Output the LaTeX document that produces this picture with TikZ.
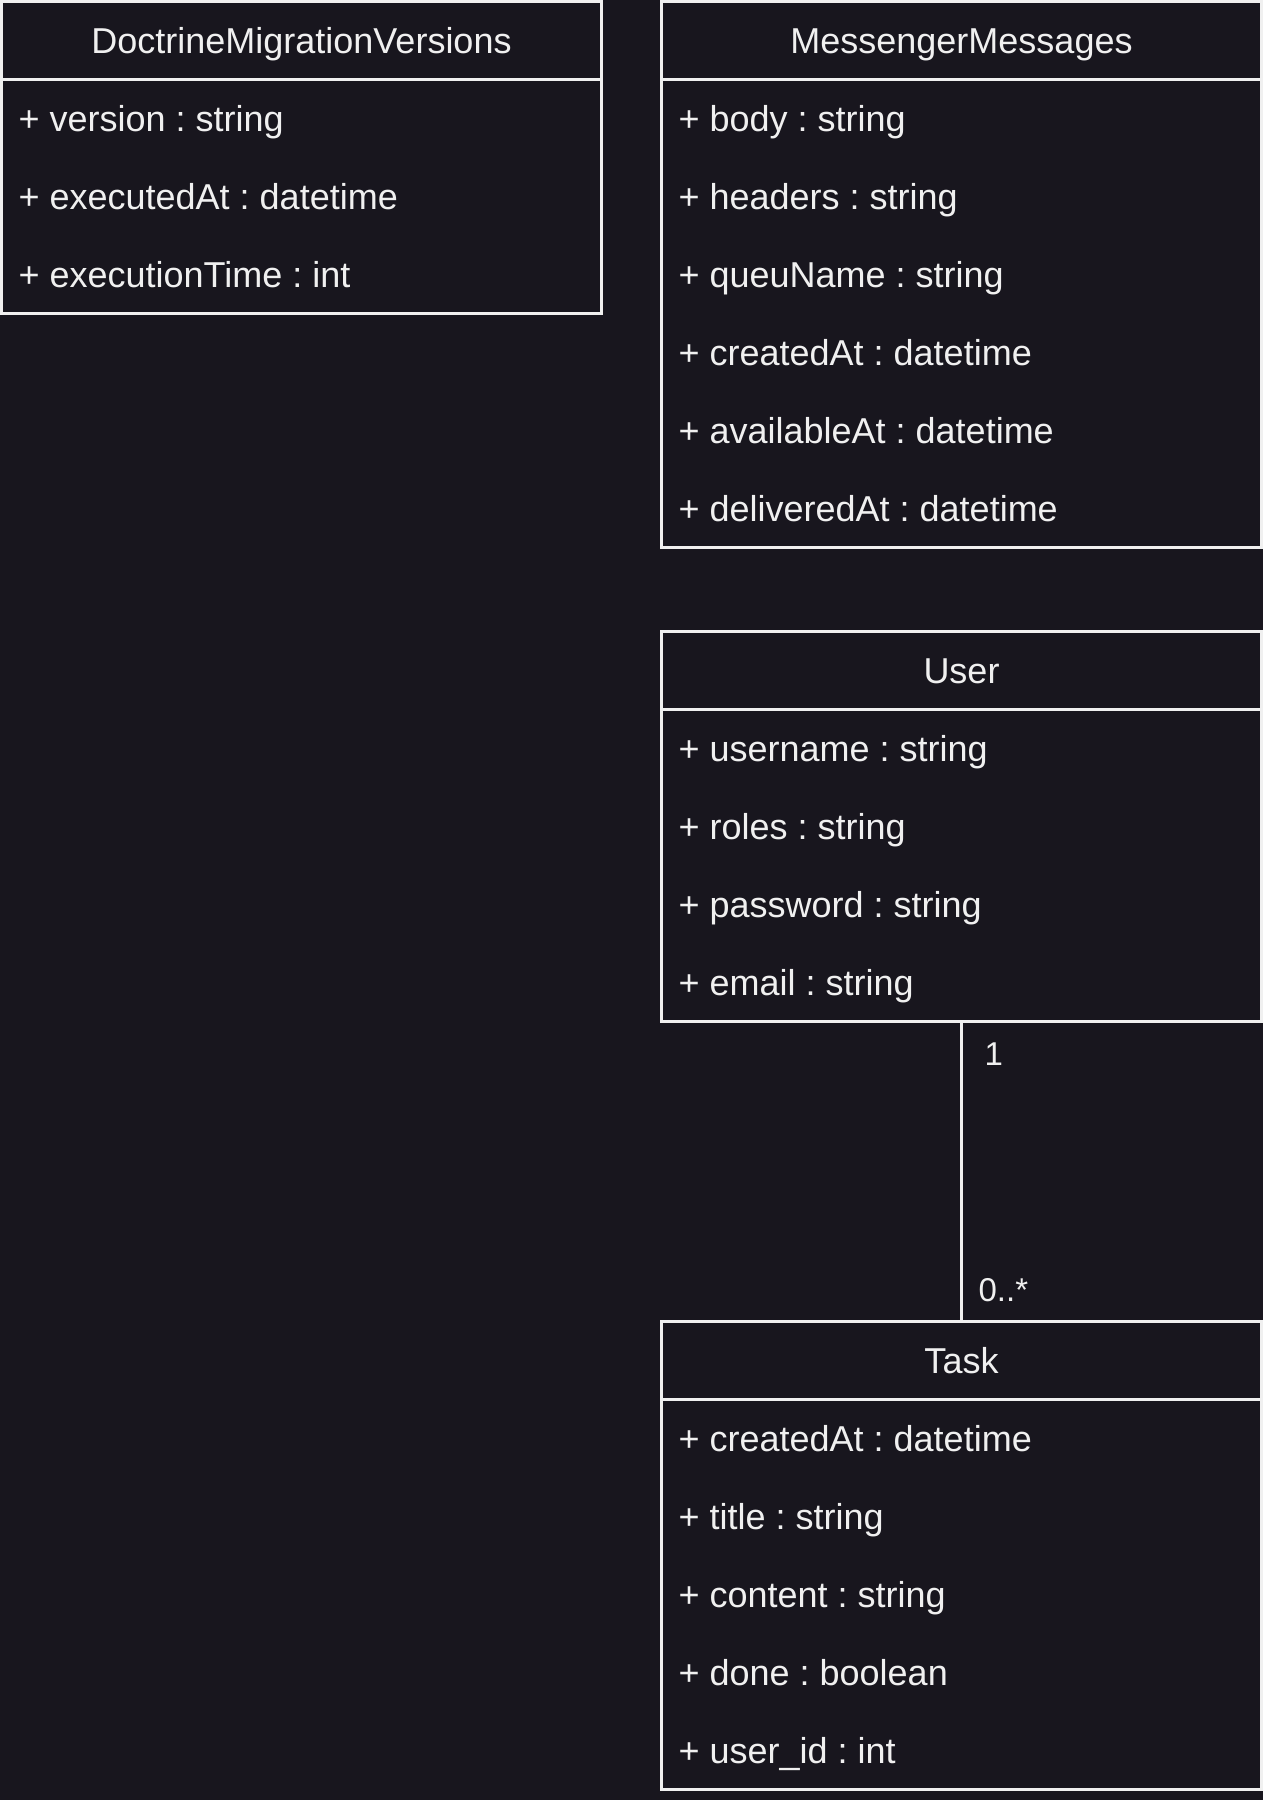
\documentclass[tikz,border=0pt]{standalone}
\usepackage{fontspec}
\setmainfont{Liberation Sans}
\usetikzlibrary{positioning}
\frenchspacing
\definecolor{bgdark}{HTML}{18161E}
\definecolor{linelight}{HTML}{F0F0F0}
\tikzstyle{classhead}=[rectangle,draw=linelight,line width=1pt,outer sep=0pt,inner sep=0pt,minimum width=200pt,minimum height=26pt,text=linelight,font=\fontsize{12}{14}\selectfont,text height=11pt,text depth=2.4pt]
\tikzstyle{classbody}=[rectangle,draw=linelight,line width=1pt,outer sep=0pt,inner sep=0pt,minimum width=200pt]
\tikzstyle{field}=[anchor=west,inner sep=0pt,text=linelight,font=\fontsize{12}{14}\selectfont,text height=11pt,text depth=2.4pt]
\tikzstyle{multip}=[anchor=base west,inner sep=0pt,text=linelight,font=\fontsize{11}{13}\selectfont]
\tikzstyle{assoc}=[draw=linelight,line width=1pt]

\begin{document}
\begin{tikzpicture}[x=1pt,y=-1pt]
\def \rowh {26};
\def \padl {5.5};

\fill[bgdark] (0,0) rectangle (421,600);
\useasboundingbox (0,0) rectangle (421,600);

% DoctrineMigrationVersions
\node[classhead] (dmv) at (100.5, 13.5) {DoctrineMigrationVersions};
\node[classbody, minimum height=78pt, below=0pt of dmv] (dmvbody) {};
\foreach \f [count=\i] in {{+ version : string},{+ executedAt : datetime},{+ executionTime : int}} {
	\node[field] (dmvf\i) at ({0.5 + \padl}, {26.5 + (\i - 0.5)*\rowh}) {\f};
};

% MessengerMessages
\node[classhead] (msg) at (320.5, 13.5) {MessengerMessages};
\node[classbody, minimum height=156pt, below=0pt of msg] (msgbody) {};
\foreach \f [count=\i] in {{+ body : string},{+ headers : string},{+ queuName : string},{+ createdAt : datetime},{+ availableAt : datetime},{+ deliveredAt : datetime}} {
	\node[field] (msgf\i) at ({220.5 + \padl}, {26.5 + (\i - 0.5)*\rowh}) {\f};
};

% User
\node[classhead] (user) at (320.5, 223.5) {User};
\node[classbody, minimum height=104pt, below=0pt of user] (userbody) {};
\foreach \f [count=\i] in {{+ username : string},{+ roles : string},{+ password : string},{+ email : string}} {
	\node[field] (userf\i) at ({220.5 + \padl}, {236.5 + (\i - 0.5)*\rowh}) {\f};
};

% Task
\node[classhead] (task) at (320.5, 453.5) {Task};
\node[classbody, minimum height=130pt, below=0pt of task] (taskbody) {};
\foreach \f [count=\i] in {{+ createdAt : datetime},{+ title : string},{+ content : string},{+ done : boolean},{+ user\_id : int}} {
	\node[field] (taskf\i) at ({220.5 + \padl}, {466.5 + (\i - 0.5)*\rowh}) {\f};
};

% association User -- Task
\draw[assoc] (userbody.south) -- (task.north);
\node[multip] (srcmult) at ([xshift=7.5pt, yshift=-14.7pt]userbody.south) {1};
\node[multip] (tgtmult) at ([xshift=5.5pt, yshift=6.6pt]task.north) {0..*};

\end{tikzpicture}
\end{document}
